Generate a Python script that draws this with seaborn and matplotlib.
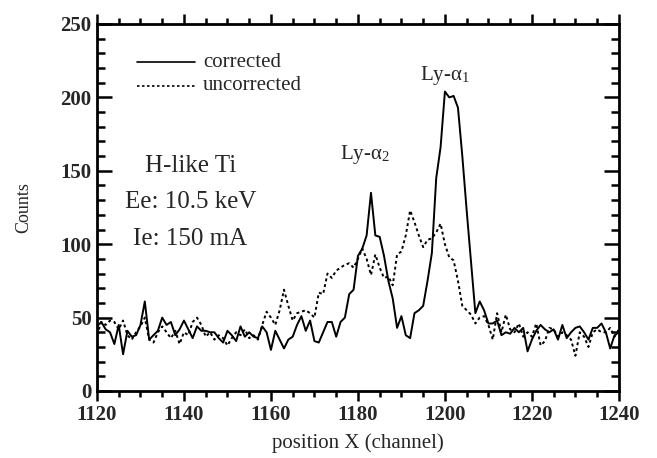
import numpy as np
import pandas as pd
import matplotlib
matplotlib.use("Agg")
import matplotlib.pyplot as plt
import seaborn as sns
from matplotlib.ticker import MultipleLocator

# Spectrum of H-like Ti, counts per channel (channels 1120..1240)
channels = list(range(1120, 1241))

corrected = [
    44, 47, 42, 40, 32, 45, 25, 41, 37, 38,   # 1120-1129
    45, 61, 35, 38, 41, 50, 45, 47, 38, 42,   # 1130-1139
    48, 42, 36, 44, 41, 41, 40, 40, 36, 33,   # 1140-1149
    41, 38, 34, 44, 37, 40, 37, 36, 44, 40,   # 1150-1159
    28, 41, 35, 29, 35, 37, 45, 51, 41, 48,   # 1160-1169
    34, 33, 40, 47, 47, 37, 47, 50, 66, 69,   # 1170-1179
    92, 97, 106, 135, 106, 105, 92, 75, 63, 43,  # 1180-1189
    51, 38, 36, 53, 55, 58, 75, 94, 145, 166,    # 1190-1199
    204, 200, 201, 193, 160, 123, 88, 53, 61, 55,  # 1200-1209
    46, 46, 48, 38, 40, 39, 43, 40, 43, 27,   # 1210-1219
    35, 41, 45, 42, 40, 42, 35, 45, 36, 40,   # 1220-1229
    43, 44, 40, 35, 43, 43, 46, 40, 29, 38,   # 1230-1239
    40,                                        # 1240
]

uncorrected = [
    38, 47, 45, 48, 47, 42, 48, 38, 35, 40,   # 1120-1129
    44, 50, 35, 33, 40, 44, 40, 36, 41, 32,   # 1130-1139
    40, 38, 47, 50, 45, 37, 40, 35, 38, 36,   # 1140-1149
    31, 36, 40, 38, 42, 36, 38, 35, 45, 54,   # 1150-1159
    50, 45, 55, 69, 58, 48, 53, 54, 55, 53,   # 1160-1169
    50, 67, 66, 80, 77, 82, 84, 86, 87, 84,   # 1170-1179
    90, 97, 90, 79, 93, 84, 77, 78, 72, 93,   # 1180-1189
    95, 106, 123, 115, 106, 98, 103, 104, 108, 114,  # 1190-1199
    100, 91, 89, 75, 58, 55, 52, 46, 50, 51,  # 1200-1209
    45, 35, 53, 40, 52, 42, 40, 46, 37, 40,   # 1210-1219
    37, 46, 31, 34, 43, 42, 37, 40, 38, 35,   # 1220-1229
    24, 40, 37, 30, 40, 42, 40, 40, 43, 37,   # 1230-1239
    42,                                        # 1240
]

series_names = ["corrected", "uncorrected"]
x_ticks = [1120, 1140, 1160, 1180, 1200, 1220, 1240]
y_ticks = [0, 50, 100, 150, 200, 250]

df = pd.concat([
    pd.DataFrame({"channel": channels, "counts": corrected, "series": series_names[0]}),
    pd.DataFrame({"channel": channels, "counts": uncorrected, "series": series_names[1]}),
])

sns.set_style("ticks")
plt.rcParams["font.family"] = ["Liberation Serif", "DejaVu Serif"]
plt.rcParams["mathtext.fontset"] = "stix"

fig = plt.figure(figsize=(6.57, 4.58), dpi=100)
ax = fig.add_axes([0.1476, 0.1463, 0.7944, 0.8013])

sns.lineplot(
    data=df, x="channel", y="counts", hue="series", style="series",
    palette={"corrected": "black", "uncorrected": "black"},
    dashes={"corrected": "", "uncorrected": (1.5, 1.5)},
    linewidth=1.4, ax=ax, legend=False,
)

ax.set_xlim(1120, 1240)
ax.set_ylim(0, 250)
ax.set_xticks(x_ticks)
ax.set_yticks(y_ticks)
ax.xaxis.set_minor_locator(MultipleLocator(5))
ax.yaxis.set_minor_locator(MultipleLocator(10))

for side in ["left", "right", "top", "bottom"]:
    ax.spines[side].set_visible(True)
    ax.spines[side].set_linewidth(2.0)
    ax.spines[side].set_color("black")

ax.tick_params(axis="x", which="both", direction="out", top=True, bottom=True,
               width=1.8, color="black", labelsize=15, pad=3)
ax.tick_params(axis="x", which="major", length=7)
ax.tick_params(axis="x", which="minor", length=4)
ax.tick_params(axis="y", which="both", direction="in", left=True, right=True,
               width=1.8, color="black", labelsize=15, pad=4)
ax.tick_params(axis="y", which="major", length=11)
ax.tick_params(axis="y", which="minor", length=6)
for lab in ax.get_xticklabels() + ax.get_yticklabels():
    lab.set_fontweight("bold")

ax.set_xlabel("position X (channel)", fontsize=15, labelpad=6)
ax.set_ylabel("Counts", fontsize=13, labelpad=20)

# legend drawn by hand as two short line samples
ax.plot([1129.2, 1142.5], [224, 224], color="black", linewidth=1.2)
ax.plot([1129.2, 1142.5], [208, 208], color="black", linewidth=1.2, dashes=(1.5, 1.5))
ax.text(1144.4, 224, "corrected", fontsize=15, va="center", ha="left")
ax.text(1144.4, 208, "uncorrected", fontsize=15, va="center", ha="left")

ax.text(1141.5, 161, "H-like Ti\nEe: 10.5 keV\nIe: 150 mA", fontsize=18,
        ha="center", va="top", linespacing=1.85)

ax.text(1181.6, 161, "Ly-α$_{\\mathregular{2}}$", fontsize=15, ha="center", va="center")
ax.text(1200, 215, "Ly-α$_{\\mathregular{1}}$", fontsize=15, ha="center", va="center")

fig.savefig("out.png", dpi=100, facecolor="white")
